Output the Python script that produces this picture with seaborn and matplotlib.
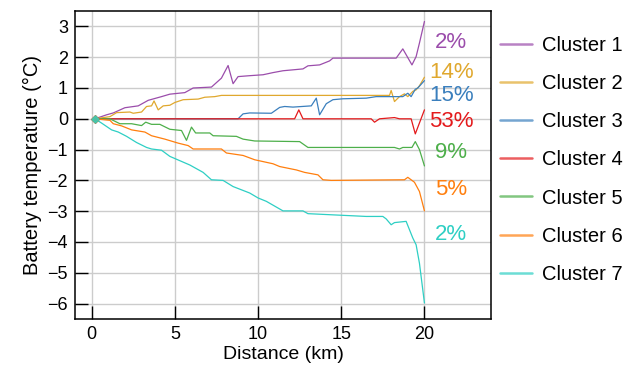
import matplotlib
matplotlib.use("Agg")
import matplotlib.pyplot as plt
import seaborn as sns
import pandas as pd
from matplotlib.lines import Line2D

# cluster curves: distance (km) and battery temperature change (degC)
c1_x = [0.2, 0.9, 1.3, 2.0, 2.8, 3.4, 4.2, 4.7, 5.6, 6.1, 7.2, 7.8, 8.2, 8.5, 8.8, 9.5, 10.3, 10.9,
        11.5, 12.7, 13.0, 13.7, 14.3, 14.5, 18.3, 18.7, 19.25, 19.5, 19.7, 20.0]
c1_y = [0, 0.13, 0.19, 0.36, 0.42, 0.6, 0.72, 0.8, 0.85, 1.0, 1.03, 1.32, 1.73, 1.14, 1.37, 1.40, 1.43, 1.5,
        1.56, 1.62, 1.72, 1.75, 1.88, 1.97, 1.97, 2.27, 1.75, 2.02, 2.46, 3.16]

c2_x = [0.2, 1.1, 1.5, 2.3, 2.5, 3.0, 3.3, 3.6, 3.75, 4.0, 4.3, 4.7, 5.0, 5.5, 6.4, 6.8, 7.4, 7.8,
        17.9, 18.0, 18.2, 18.5, 18.8, 19.0, 19.3, 19.5, 19.7, 20.0]
c2_y = [0, 0.07, 0.2, 0.22, 0.18, 0.22, 0.4, 0.42, 0.58, 0.29, 0.42, 0.44, 0.53, 0.62, 0.64, 0.7, 0.72, 0.76,
        0.76, 0.92, 0.56, 0.72, 0.81, 0.72, 0.89, 0.94, 1.07, 1.35]

c3_x = [0.2, 8.8, 9.1, 9.5, 10.8, 11.3, 11.6, 12.1, 13.2, 13.5, 13.7, 14.1, 14.5, 15.1, 16.5, 17.1,
        18.7, 19.0, 19.2, 19.45, 19.6, 20.0]
c3_y = [0, 0, 0.16, 0.19, 0.18, 0.37, 0.4, 0.38, 0.42, 0.67, 0.13, 0.49, 0.62, 0.65, 0.67, 0.72,
        0.72, 0.83, 0.72, 0.96, 1.0, 1.24]

c4_x = [0.2, 12.2, 12.45, 12.7, 16.8, 17.0, 17.3, 18.2, 18.5, 19.2, 19.45, 20.0]
c4_y = [0, 0, 0.29, 0, 0, -0.11, 0, 0.04, 0, 0, -0.49, 0.29]

c5_x = [0.2, 1.1, 1.7, 2.4, 3.0, 3.25, 3.6, 4.1, 4.7, 5.4, 5.7, 6.0, 6.25, 7.1, 7.3, 8.7, 9.1, 9.8,
        12.5, 13.0, 18.2, 18.5, 18.7, 19.25, 19.45, 19.7, 20.0]
c5_y = [0, 0, -0.16, -0.16, -0.22, -0.11, -0.18, -0.18, -0.34, -0.38, -0.7, -0.27, -0.46, -0.46, -0.55,
        -0.57, -0.66, -0.72, -0.74, -0.93, -0.93, -0.98, -0.93, -0.93, -0.74, -1.0, -1.53]

c6_x = [0.2, 1.1, 1.3, 1.8, 2.4, 3.2, 3.6, 4.4, 5.2, 5.8, 6.1, 7.8, 8.1, 9.1, 9.8, 10.9, 11.3, 12.3,
        12.8, 13.6, 13.9, 14.4, 18.8, 19.0, 19.4, 19.7, 20.0]
c6_y = [0, -0.05, -0.16, -0.23, -0.36, -0.43, -0.55, -0.66, -0.79, -0.87, -0.98, -0.98, -1.11, -1.19,
        -1.33, -1.46, -1.55, -1.66, -1.74, -1.82, -1.98, -2.0, -1.98, -1.9, -2.06, -2.36, -2.99]

c7_x = [0.2, 0.6, 1.2, 1.6, 2.1, 2.7, 3.3, 3.6, 4.2, 4.7, 5.9, 6.7, 7.2, 7.9, 8.5, 9.5, 10.0, 10.5,
        11.5, 12.7, 13.0, 16.5, 17.5, 17.7, 18.0, 18.2, 18.9, 19.3, 19.5, 19.7, 20.0]
c7_y = [0, -0.14, -0.36, -0.43, -0.57, -0.77, -0.93, -0.98, -1.02, -1.22, -1.5, -1.74, -1.98, -2.0,
        -2.2, -2.41, -2.57, -2.68, -2.99, -2.99, -3.08, -3.17, -3.17, -3.25, -3.44, -3.37, -3.33,
        -3.87, -4.09, -4.69, -5.98]

clusters = ["Cluster 1", "Cluster 2", "Cluster 3", "Cluster 4", "Cluster 5", "Cluster 6", "Cluster 7"]
shares = ["2%", "14%", "15%", "53%", "9%", "5%", "2%"]
share_y = [2.47, 1.50, 0.75, -0.09, -1.11, -2.31, -3.77]
colors = ["#9b4dab", "#e0a82e", "#3a7fbd", "#e41a1c", "#4daf4a", "#ff7f0e", "#2ecfc4"]

xs = [c1_x, c2_x, c3_x, c4_x, c5_x, c6_x, c7_x]
ys = [c1_y, c2_y, c3_y, c4_y, c5_y, c6_y, c7_y]
df = pd.concat([pd.DataFrame({"dist": x, "temp": y, "cluster": c})
                for x, y, c in zip(xs, ys, clusters)], ignore_index=True)

sns.set_style("ticks")
plt.rcParams["font.family"] = ["Liberation Sans", "DejaVu Sans"]
plt.rcParams["text.color"] = "black"
plt.rcParams["axes.labelcolor"] = "black"

fig = plt.figure(figsize=(6.37, 3.74), dpi=100)
ax = fig.add_axes([75 / 637, 1 - 319 / 374, 416 / 637, 308 / 374])

sns.lineplot(data=df, x="dist", y="temp", hue="cluster", palette=colors,
             estimator=None, sort=False, lw=0.9, ax=ax, legend=False)

# small diamond markers at the start point
for x, y, col in zip(xs, ys, colors):
    ax.plot(x[0], y[0], marker="D", ms=3.5, color=col, alpha=0.8, zorder=3)

for s, yv, col in zip(shares, share_y, colors):
    ax.text(21.6, yv, s, color=col, fontsize=16, ha="center", va="center")

ax.set_xlim(-1, 24)
ax.set_ylim(-6.5, 3.5)
ax.set_xticks([0, 5, 10, 15, 20])
ax.set_yticks(range(-6, 4))
ax.set_yticklabels([str(v).replace("-", "\u2212") for v in range(-6, 4)])
ax.grid(True, color="#cccccc", lw=1)
ax.tick_params(direction="in", length=9.5, width=1, labelsize=13, pad=5,
               color="black", labelcolor="black")
for sp in ax.spines.values():
    sp.set_visible(True)
    sp.set_color("black")
    sp.set_linewidth(1.1)
ax.set_xlabel("Distance (km)", fontsize=14, labelpad=2)
ax.set_ylabel("Battery temperature (\u00b0C)", fontsize=14.5, labelpad=4)

handles = [Line2D([], [], color=c, lw=1.8, alpha=0.7) for c in colors]
fig.legend(handles, clusters, loc="upper left", bbox_to_anchor=(500 / 637, 1 - 36 / 374),
           frameon=False, fontsize=14.5, handlelength=1.6, handletextpad=0.5,
           labelspacing=0.95, borderpad=0, borderaxespad=0)

fig.savefig("out.png", dpi=100)
